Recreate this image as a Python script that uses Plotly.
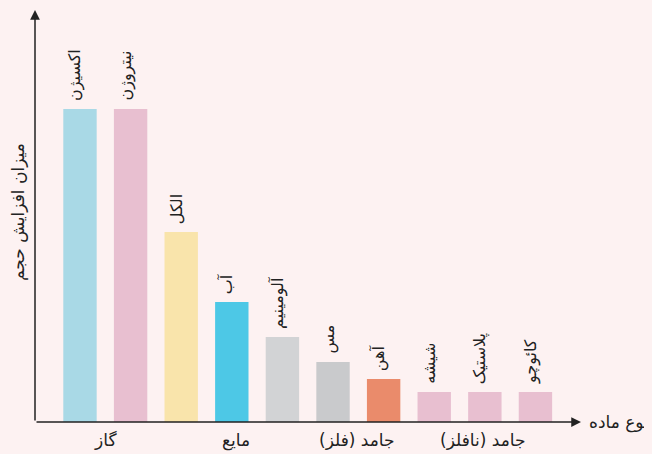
import plotly.graph_objects as go

materials = ["اکسیژن", "نیتروژن", "الکل", "آب", "آلومینیم", "مس", "آهن", "شیشه", "پلاستیک", "کائوچو"]
volume_increase = [313, 313, 190, 120, 85, 60, 43, 30, 30, 30]
bar_colors = ["#a9d9e6", "#e8bfd0", "#f9e4ab", "#4dc8e6", "#d2d3d5",
              "#c9cacc", "#ea8b6b", "#e8bfd0", "#e8bfd0", "#e8bfd0"]
group_labels = ["گاز", "مایع", "جامد (فلز)", "جامد (نافلز)"]
group_positions = [0.5, 3.08, 5.47, 7.96]
y_title = "میزان افزایش حجم"
x_title = "نوع ماده"

FONT = "DejaVu Sans"
BG = "#fdf2f2"

xs = list(range(len(materials)))
fig = go.Figure(go.Bar(x=xs, y=volume_increase, marker=dict(color=bar_colors, line=dict(width=0)),
                       width=0.66, hoverinfo="skip"))

ann = []
for i, (m, v) in enumerate(zip(materials, volume_increase)):
    ann.append(dict(x=i, y=v, xref="x", yref="y", text=m, textangle=-90, showarrow=False,
                    yanchor="bottom", xanchor="center", yshift=6, xshift=-5,
                    font=dict(family=FONT, size=16, color="#222")))
for g, p in zip(group_labels, group_positions):
    ann.append(dict(x=p, y=0, xref="x", yref="paper", text=g, showarrow=False,
                    yanchor="top", xanchor="center", yshift=-6,
                    font=dict(family=FONT, size=17, color="#222")))
# y axis arrow
ann.append(dict(x=0, y=1, xref="paper", yref="paper", text="", showarrow=True,
                ax=0, ay=412, axref="pixel", ayref="pixel", arrowhead=2, arrowsize=1.3,
                arrowwidth=1.5, arrowcolor="#222", standoff=0, startstandoff=0))
# x axis arrow
ann.append(dict(x=1, y=0, xref="paper", yref="paper", text="", showarrow=True,
                ax=-546, ay=0, axref="pixel", ayref="pixel", arrowhead=2, arrowsize=1.3,
                arrowwidth=1.5, arrowcolor="#222", standoff=0, startstandoff=0))
ann.append(dict(x=0, y=0.5, xref="paper", yref="paper", text=y_title, textangle=-90,
                showarrow=False, xanchor="center", yanchor="middle", xshift=-17, yshift=4,
                font=dict(family=FONT, size=17, color="#222")))
ann.append(dict(x=1, y=0, xref="paper", yref="paper", text=x_title, showarrow=False,
                xanchor="left", yanchor="middle", xshift=6,
                font=dict(family=FONT, size=17, color="#222")))

fig.update_layout(
    width=652, height=454,
    margin=dict(l=27, r=79, t=2, b=40),
    paper_bgcolor=BG, plot_bgcolor=BG,
    showlegend=False,
    xaxis=dict(range=[-0.889, 9.90], showticklabels=False, showgrid=False, zeroline=False,
               showline=False, ticks=""),
    yaxis=dict(range=[0, 412], showticklabels=False, showgrid=False, zeroline=False,
               showline=False, ticks=""),
    annotations=ann,
)
fig.write_html("out.html",
               post_script="document.body.style.background='#fdf2f2';"
                           "document.documentElement.style.background='#fdf2f2';")
